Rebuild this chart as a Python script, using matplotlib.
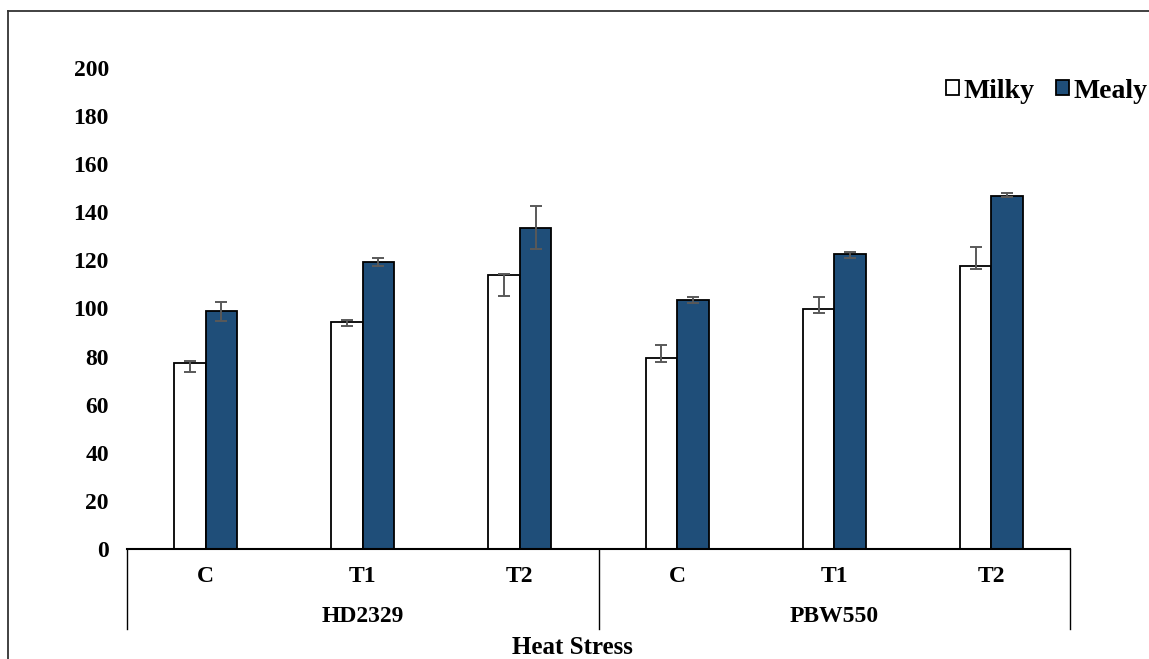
import matplotlib
matplotlib.use('Agg')
import matplotlib.pyplot as plt
import matplotlib.transforms as mtransforms
from matplotlib.lines import Line2D
from matplotlib.patches import Patch
import numpy as np

# data
groups = ["HD2329", "PBW550"]
treatments = ["C", "T1", "T2", "C", "T1", "T2"]
milky = [77.2, 94.3, 113.9, 79.3, 99.8, 117.7]
milky_err_up = [1.1, 1.1, 0.6, 5.4, 5.1, 7.7]
milky_err_lo = [3.7, 1.7, 8.7, 1.5, 1.6, 1.3]
mealy = [99.0, 119.4, 133.6, 103.5, 122.7, 146.9]
mealy_err_up = [3.7, 1.6, 9.2, 1.4, 0.9, 1.0]
mealy_err_lo = [4.1, 1.6, 8.9, 1.3, 1.9, 0.6]
yticks = list(range(0, 201, 20))

BLUE = "#1f4e79"
ERR = "#595959"
FONT = "Liberation Serif"

plt.rcParams['font.family'] = FONT
plt.rcParams['font.weight'] = 'bold'

W, H = 1149, 659
fig = plt.figure(figsize=(W / 100, H / 100), dpi=100)
ax = fig.add_axes([127 / W, 1 - 549 / H, (1070 - 127) / W, (549 - 68) / H])

x = np.arange(len(treatments))
bw = 0.2
ax.bar(x - bw / 2, milky, bw, color="white", edgecolor="black", linewidth=1.3, zorder=2)
ax.bar(x + bw / 2, mealy, bw, color=BLUE, edgecolor="black", linewidth=1.3, zorder=2)
ax.errorbar(x - bw / 2, milky, yerr=[milky_err_lo, milky_err_up], fmt='none',
            ecolor=ERR, elinewidth=1.4, capsize=4, capthick=1.4, zorder=3)
ax.errorbar(x + bw / 2, mealy, yerr=[mealy_err_lo, mealy_err_up], fmt='none',
            ecolor=ERR, elinewidth=1.4, capsize=4, capthick=1.4, zorder=3)

ax.set_xlim(-0.5, len(treatments) - 0.5)
ax.set_ylim(0, 200)
ax.set_yticks(yticks)
ax.set_yticklabels([str(t) for t in yticks], fontsize=17, fontweight='bold')
ax.tick_params(axis='y', length=0, pad=13)
ax.set_xticks([])
for s in ['left', 'right', 'top']:
    ax.spines[s].set_visible(False)
ax.spines['bottom'].set_linewidth(1.5)

# multi-level category axis
trans = mtransforms.blended_transform_factory(ax.transData, ax.transAxes)
for xi, t in zip(x, treatments):
    ax.text(xi, -(577 - 549) / 481, t, transform=trans, ha='center', va='center',
            fontsize=17, fontweight='bold')
for gi, g in enumerate(groups):
    ax.text(1 + 3 * gi, -(616 - 549) / 481, g, transform=trans, ha='center', va='center',
            fontsize=17, fontweight='bold')
for xs in [-0.5, 2.5, 5.5]:
    ax.add_line(Line2D([xs, xs], [0, -(629 - 549) / 481], transform=trans,
                       color='black', linewidth=1.0, clip_on=False))

fig.text(572 / W, 1 - 648 / H, "Heat Stress", ha='center', va='center',
         fontsize=18, fontweight='bold')

handles = [Patch(facecolor='white', edgecolor='black', linewidth=1.3),
           Patch(facecolor=BLUE, edgecolor='black', linewidth=1.3)]
fig.legend(handles, ["Milky", "Mealy"], loc='center right',
           bbox_to_anchor=(1147 / W, 1 - 91 / H), ncol=2, frameon=False,
           handlelength=0.45, handleheight=0.45, handletextpad=0.15,
           columnspacing=0.8, borderpad=0, borderaxespad=0,
           prop={'family': FONT, 'weight': 'bold', 'size': 20})

# outer chart frame (cropped on the right and bottom)
fig.add_artist(Line2D([8 / W, 8 / W], [0, 1 - 11 / H], transform=fig.transFigure,
                      color='#333333', linewidth=1.3))
fig.add_artist(Line2D([8 / W, 1], [1 - 11 / H, 1 - 11 / H], transform=fig.transFigure,
                      color='#333333', linewidth=1.3))

fig.savefig("out.png", dpi=100, facecolor='white')
